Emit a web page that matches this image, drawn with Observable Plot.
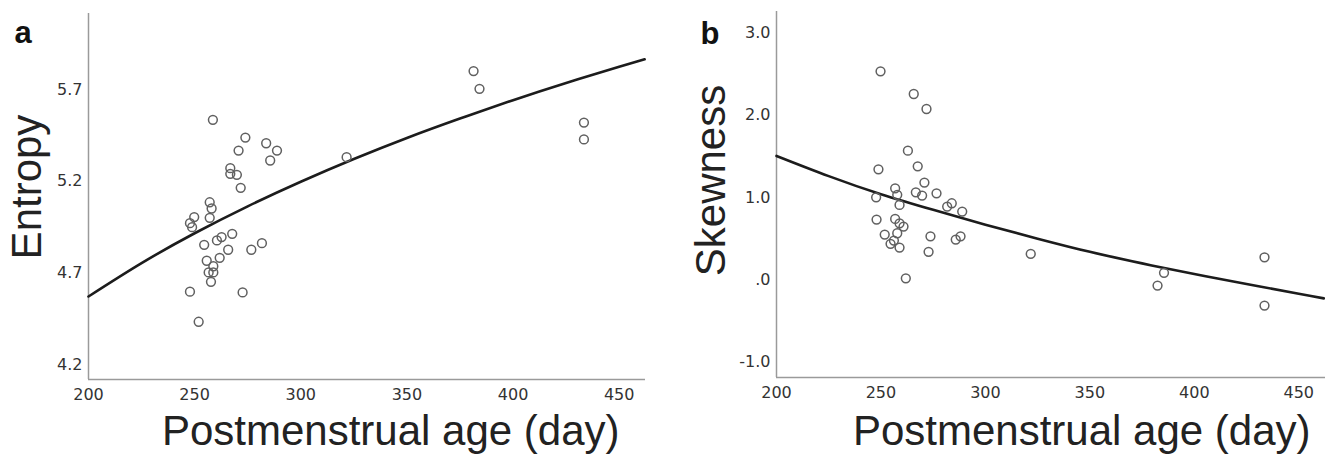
<!DOCTYPE html>
<html><head><meta charset="utf-8">
<script src="https://cdn.jsdelivr.net/npm/d3@7"></script>
<script src="https://cdn.jsdelivr.net/npm/@observablehq/plot@0.6"></script>
<style>
body{margin:0;background:#fff;}
#wrap{display:flex;width:1325px;height:457px;overflow:hidden;}
</style></head><body><div id="wrap"></div>
<script>
// ---- data ----
const ageA = [258.6, 273.9, 283.7, 288.8, 270.7, 285.6, 266.8, 266.8, 269.9, 271.7, 321.6, 257.1, 258.0, 257.1, 249.8, 247.8, 248.8, 267.7, 262.7, 260.5, 254.5, 281.7, 276.7, 265.8, 261.8, 255.7, 258.8, 256.6, 258.8, 257.7, 247.8, 272.6, 251.9, 381.4, 384.2, 433.4, 433.4];
const entropy = [5.535, 5.438, 5.407, 5.367, 5.367, 5.313, 5.271, 5.240, 5.235, 5.164, 5.331, 5.085, 5.051, 5.000, 5.004, 4.971, 4.949, 4.913, 4.895, 4.877, 4.853, 4.862, 4.826, 4.826, 4.782, 4.766, 4.736, 4.702, 4.702, 4.651, 4.597, 4.593, 4.433, 5.801, 5.704, 5.520, 5.428];
const ageB = [249.8, 265.7, 271.8, 262.9, 267.6, 248.8, 270.8, 256.8, 266.7, 269.7, 257.8, 276.6, 247.7, 258.9, 283.9, 281.7, 288.9, 247.9, 256.8, 258.9, 260.8, 251.8, 257.8, 273.7, 288.1, 285.8, 256.2, 254.6, 258.9, 272.8, 321.7, 261.9, 382.4, 385.5, 433.6, 433.6];
const skewness = [2.532, 2.257, 2.075, 1.569, 1.379, 1.342, 1.181, 1.112, 1.063, 1.023, 1.032, 1.051, 1.002, 0.910, 0.930, 0.890, 0.829, 0.732, 0.740, 0.687, 0.647, 0.550, 0.566, 0.529, 0.529, 0.489, 0.477, 0.437, 0.392, 0.340, 0.316, 0.019, -0.069, 0.085, 0.274, -0.312];
const fitAge = [200, 225, 250, 275, 300, 325, 350, 375, 400, 425, 450, 462];
const fitEntropy = [4.571, 4.753, 4.916, 5.063, 5.197, 5.321, 5.436, 5.542, 5.642, 5.736, 5.824, 5.865];
const fitSkewness = [1.505, 1.26, 1.04, 0.85, 0.67, 0.50, 0.34, 0.20, 0.07, -0.05, -0.17, -0.225];
const xTicks = [200, 250, 300, 350, 400, 450];
const yTicksA = [4.2, 4.7, 5.2, 5.7];
const yTickLabelsA = ["4.2", "4.7", "5.2", "5.7"];
const yTicksB = [-1, 0, 1, 2, 3];
const yTickLabelsB = ["-1.0", ".0", "1.0", "2.0", "3.0"];
const panelLabels = ["a", "b"];
const xTitle = "Postmenstrual age (day)";
const yTitles = ["Entropy", "Skewness"];

const ptsA = ageA.map((x, i) => ({x, y: entropy[i]}));
const ptsB = ageB.map((x, i) => ({x, y: skewness[i]}));
const fitA = fitAge.map((x, i) => ({x, y: fitEntropy[i]}));
const fitB = fitAge.map((x, i) => ({x, y: fitSkewness[i]}));

const bigFont = "Liberation Sans, Arial, Helvetica, sans-serif";
const baseStyle = {fontFamily: "DejaVu Sans, Verdana, sans-serif", fontSize: "16px", color: "#333", background: "white", overflow: "visible"};
const axisGray = "#9a9a9a";

function panel(opts) {
  const {width, ml, mr, mt, mb, ydom, yt, ytl, pts, fit, ylab, plab, ylabDx, ylabDy, plabDx, plabDy, xlabDx, xlabDy} = opts;
  const xdom = [200, opts.xmax];
  return Plot.plot({
    width, height: 457,
    marginLeft: ml, marginRight: mr, marginTop: mt, marginBottom: mb,
    style: baseStyle,
    x: {domain: xdom},
    y: {domain: ydom},
    marks: [
      Plot.axisX({ticks: xTicks, tickSize: 0, tickPadding: 9, label: null, tickFormat: d => String(d)}),
      Plot.axisY({ticks: yt, tickSize: 0, tickPadding: 6, label: null, tickFormat: d => ytl[yt.indexOf(d)]}),
      Plot.ruleX([xdom[0]], {stroke: axisGray, strokeWidth: 1.5}),
      Plot.ruleY([ydom[0]], {stroke: axisGray, strokeWidth: 1.5}),
      Plot.line(fit, {x: "x", y: "y", stroke: "#1c1c1c", strokeWidth: 2.6, curve: "natural"}),
      Plot.dot(pts, {x: "x", y: "y", r: 4.4, stroke: "#606060", strokeWidth: 1.5, fill: "none"}),
      Plot.text([ylab], {text: d => d, frameAnchor: "left", rotate: -90, textAnchor: "middle", lineAnchor: "bottom", dx: ylabDx, dy: ylabDy, fontFamily: bigFont, fontSize: 42, fill: "#222"}),
      Plot.text([plab], {text: d => d, frameAnchor: "top-left", textAnchor: "start", lineAnchor: "bottom", dx: plabDx, dy: plabDy, fontFamily: bigFont, fontSize: 31, fontWeight: "bold", fill: "#111"}),
      Plot.text([xTitle], {text: d => d, frameAnchor: "bottom-right", textAnchor: "end", lineAnchor: "bottom", dx: xlabDx, dy: xlabDy, fontFamily: bigFont, fontSize: 42, fill: "#222"})
    ]
  });
}

const wrap = document.getElementById("wrap");
wrap.appendChild(panel({
  width: 660, ml: 88, mr: 15, mt: 13, mb: 78, xmax: 462.4,
  ydom: [4.118, 6.115], yt: yTicksA, ytl: yTickLabelsA, pts: ptsA, fit: fitA,
  ylab: yTitles[0], plab: panelLabels[0],
  ylabDx: -48, ylabDy: -9.5, plabDx: -74, plabDy: 29, xlabDx: -26, xlabDy: 65
}));
wrap.appendChild(panel({
  width: 665, ml: 116, mr: 0, mt: 11, mb: 80, xmax: 462.8,
  ydom: [-1.186, 3.259], yt: yTicksB, ytl: yTickLabelsB, pts: ptsB, fit: fitB,
  ylab: yTitles[1], plab: panelLabels[1],
  ylabDx: -52, ylabDy: -14, plabDx: -76, plabDy: 32, xlabDx: -15, xlabDy: 67
}));
</script></body></html>
